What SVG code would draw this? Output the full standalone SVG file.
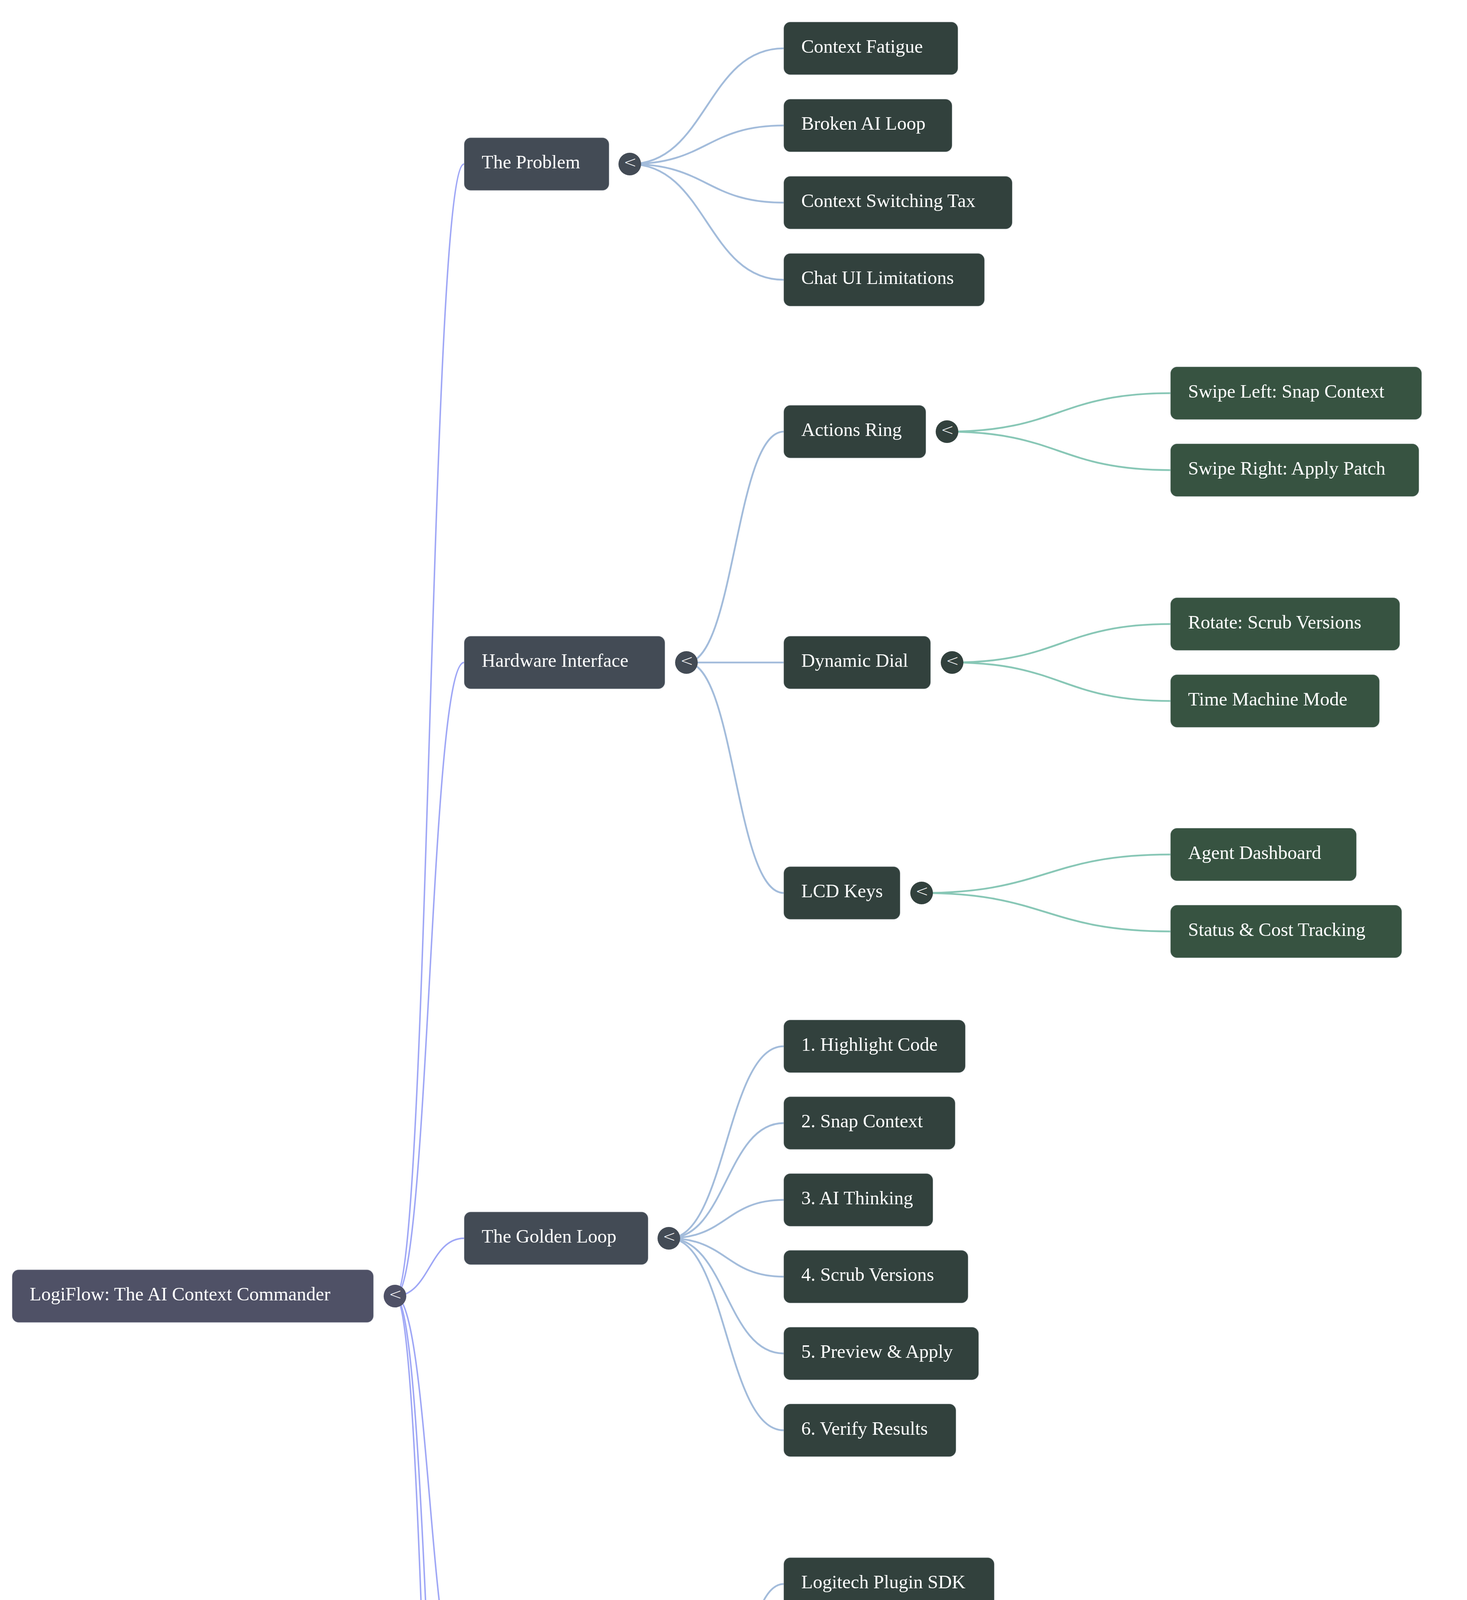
<svg xmlns="http://www.w3.org/2000/svg" width="3755" height="6537" viewBox="0 0 3755 6537">
<style>
.box{stroke:#c8ccd2;stroke-opacity:0.45;stroke-width:1.5}
.r0{fill:#4f5166}
.r1{fill:#434b55}
.r2{fill:#32413d}
.r3{fill:#375341}
.t{font-family:"Liberation Serif","Times New Roman",serif;font-size:48.5px;fill:#ffffff}
.ex{font-family:"DejaVu Sans","Liberation Sans",sans-serif;font-weight:200;font-size:40px;fill:#ffffff;text-anchor:middle}
.c0{fill:none;stroke:#9fa7f6;stroke-width:3.8;stroke-linecap:round}
.c1{fill:none;stroke:#a3bcdb;stroke-width:4.6;stroke-linecap:round}
.c2{fill:none;stroke:#88c7b6;stroke-width:4.6;stroke-linecap:round}
</style>
<rect width="3755" height="6537" fill="#ffffff"/>
<g id="connectors">
<path class="c0" d="M1011 3318 C1099.5 3318 1099.5 420 1188 420"/>
<path class="c0" d="M1011 3318 C1099.5 3318 1099.5 1696 1188 1696"/>
<path class="c0" d="M1011 3318 C1099.5 3318 1099.5 3170 1188 3170"/>
<path class="c0" d="M1011 3318 C1099.5 3318 1099.5 4350 1188 4350"/>
<path class="c0" d="M1011 3318 C1099.5 3318 1099.5 5337 1188 5337"/>
<path class="c0" d="M1011 3318 C1099.5 3318 1099.5 6219 1188 6219"/>
<path class="c1" d="M1612 420 C1809 420 1809 123.75 2006 123.75"/>
<path class="c1" d="M1612 420 C1809 420 1809 321.25 2006 321.25"/>
<path class="c1" d="M1612 420 C1809 420 1809 518.75 2006 518.75"/>
<path class="c1" d="M1612 420 C1809 420 1809 716.25 2006 716.25"/>
<path class="c1" d="M1757 1696 C1881.5 1696 1881.5 1105 2006 1105"/>
<path class="c1" d="M1757 1696 L2006 1696"/>
<path class="c1" d="M1757 1696 C1881.5 1696 1881.5 2286 2006 2286"/>
<path class="c1" d="M1712 3170 C1859 3170 1859 2678.5 2006 2678.5"/>
<path class="c1" d="M1712 3170 C1859 3170 1859 2875.1 2006 2875.1"/>
<path class="c1" d="M1712 3170 C1859 3170 1859 3071.7 2006 3071.7"/>
<path class="c1" d="M1712 3170 C1859 3170 1859 3268.3 2006 3268.3"/>
<path class="c1" d="M1712 3170 C1859 3170 1859 3464.9 2006 3464.9"/>
<path class="c1" d="M1712 3170 C1859 3170 1859 3661.5 2006 3661.5"/>
<path class="c1" d="M1827 4350 C1916.5 4350 1916.5 4055 2006 4055"/>
<path class="c1" d="M1827 4350 C1916.5 4350 1916.5 4251.7 2006 4251.7"/>
<path class="c1" d="M1827 4350 C1916.5 4350 1916.5 4448.3 2006 4448.3"/>
<path class="c1" d="M1827 4350 C1916.5 4350 1916.5 4645 2006 4645"/>
<path class="c1" d="M1644 5337 C1825 5337 1825 5041 2006 5041"/>
<path class="c1" d="M1644 5337 C1825 5337 1825 5238 2006 5238"/>
<path class="c1" d="M1644 5337 C1825 5337 1825 5435 2006 5435"/>
<path class="c1" d="M1644 5337 C1825 5337 1825 5632 2006 5632"/>
<path class="c1" d="M1727 6219 C1866.5 6219 1866.5 6022 2006 6022"/>
<path class="c1" d="M1727 6219 L2006 6219"/>
<path class="c1" d="M1727 6219 C1866.5 6219 1866.5 6416 2006 6416"/>
<path class="c2" d="M2424 1105 C2710 1105 2710 1006.5 2996 1006.5"/>
<path class="c2" d="M2424 1105 C2710 1105 2710 1203.5 2996 1203.5"/>
<path class="c2" d="M2437 1696 C2716.5 1696 2716.5 1597.5 2996 1597.5"/>
<path class="c2" d="M2437 1696 C2716.5 1696 2716.5 1794.5 2996 1794.5"/>
<path class="c2" d="M2359 2286 C2677.5 2286 2677.5 2187.5 2996 2187.5"/>
<path class="c2" d="M2359 2286 C2677.5 2286 2677.5 2384.5 2996 2384.5"/>
<path class="c2" d="M2422 6022 C2709 6022 2709 5825 2996 5825"/>
<path class="c2" d="M2422 6022 L2996 6022"/>
<path class="c2" d="M2422 6022 C2709 6022 2709 6219 2996 6219"/>
</g>
<g id="nodes">
<g id="root"><rect class="box r0" x="31" y="3250.5" width="925" height="135" rx="17"/><text class="t" x="76" y="3329">LogiFlow: The AI Context Commander</text><circle class="r0" cx="1011" cy="3318" r="29"/><text class="ex" x="1012" y="3327">&lt;</text></g>

<g id="problem"><rect class="box r1" x="1188" y="352.5" width="371" height="135" rx="17"/><text class="t" x="1233" y="431">The Problem</text><circle class="r1" cx="1612" cy="420" r="29"/><text class="ex" x="1613" y="429">&lt;</text></g>
<g id="hardware"><rect class="box r1" x="1188" y="1628.5" width="514" height="135" rx="17"/><text class="t" x="1233" y="1707">Hardware Interface</text><circle class="r1" cx="1757" cy="1696" r="29"/><text class="ex" x="1758" y="1705">&lt;</text></g>
<g id="golden"><rect class="box r1" x="1188" y="3102.5" width="471" height="135" rx="17"/><text class="t" x="1233" y="3181">The Golden Loop</text><circle class="r1" cx="1712" cy="3170" r="29"/><text class="ex" x="1713" y="3179">&lt;</text></g>
<g id="tech"><rect class="box r1" x="1188" y="4282.5" width="586" height="135" rx="17"/><text class="t" x="1233" y="4361">Technical Architecture</text><circle class="r1" cx="1827" cy="4350" r="29"/><text class="ex" x="1828" y="4359">&lt;</text></g>
<g id="safety"><rect class="box r1" x="1188" y="5269.5" width="401" height="135" rx="17"/><text class="t" x="1233" y="5348">Safety &amp; Trust</text><circle class="r1" cx="1644" cy="5337" r="29"/><text class="ex" x="1645" y="5346">&lt;</text></g>
<g id="business"><rect class="box r1" x="1188" y="6151.5" width="484" height="135" rx="17"/><text class="t" x="1233" y="6230">Business Strategy</text><circle class="r1" cx="1727" cy="6219" r="29"/><text class="ex" x="1728" y="6228">&lt;</text></g>

<g id="context-fatigue"><rect class="box r2" x="2006" y="56.25" width="446" height="135" rx="17"/><text class="t" x="2051" y="134.75">Context Fatigue</text></g>
<g id="broken-ai-loop"><rect class="box r2" x="2006" y="253.75" width="431" height="135" rx="17"/><text class="t" x="2051" y="332.25">Broken AI Loop</text></g>
<g id="context-switching-tax"><rect class="box r2" x="2006" y="451.25" width="585" height="135" rx="17"/><text class="t" x="2051" y="529.75">Context Switching Tax</text></g>
<g id="chat-ui"><rect class="box r2" x="2006" y="648.75" width="514" height="135" rx="17"/><text class="t" x="2051" y="727.25">Chat UI Limitations</text></g>

<g id="actions-ring"><rect class="box r2" x="2006" y="1037.5" width="364" height="135" rx="17"/><text class="t" x="2051" y="1116">Actions Ring</text><circle class="r2" cx="2424" cy="1105" r="29"/><text class="ex" x="2425" y="1114">&lt;</text></g>
<g id="dynamic-dial"><rect class="box r2" x="2006" y="1628.5" width="376" height="135" rx="17"/><text class="t" x="2051" y="1707">Dynamic Dial</text><circle class="r2" cx="2437" cy="1696" r="29"/><text class="ex" x="2438" y="1705">&lt;</text></g>
<g id="lcd-keys"><rect class="box r2" x="2006" y="2218.5" width="298" height="135" rx="17"/><text class="t" x="2051" y="2297">LCD Keys</text><circle class="r2" cx="2359" cy="2286" r="29"/><text class="ex" x="2360" y="2295">&lt;</text></g>

<g id="swipe-left"><rect class="box r3" x="2996" y="939" width="643" height="135" rx="17"/><text class="t" x="3041" y="1017.5">Swipe Left: Snap Context</text></g>
<g id="swipe-right"><rect class="box r3" x="2996" y="1136" width="636" height="135" rx="17"/><text class="t" x="3041" y="1214.5">Swipe Right: Apply Patch</text></g>
<g id="rotate"><rect class="box r3" x="2996" y="1530" width="587" height="135" rx="17"/><text class="t" x="3041" y="1608.5">Rotate: Scrub Versions</text></g>
<g id="time-machine"><rect class="box r3" x="2996" y="1727" width="535" height="135" rx="17"/><text class="t" x="3041" y="1805.5">Time Machine Mode</text></g>
<g id="agent-dashboard"><rect class="box r3" x="2996" y="2120" width="476" height="135" rx="17"/><text class="t" x="3041" y="2198.5">Agent Dashboard</text></g>
<g id="status-cost"><rect class="box r3" x="2996" y="2317" width="592" height="135" rx="17"/><text class="t" x="3041" y="2395.5">Status &amp; Cost Tracking</text></g>

<g id="step1"><rect class="box r2" x="2006" y="2611" width="465" height="135" rx="17"/><text class="t" x="2051" y="2689.5">1. Highlight Code</text></g>
<g id="step2"><rect class="box r2" x="2006" y="2807.6" width="439" height="135" rx="17"/><text class="t" x="2051" y="2886.1">2. Snap Context</text></g>
<g id="step3"><rect class="box r2" x="2006" y="3004.2" width="382" height="135" rx="17"/><text class="t" x="2051" y="3082.7">3. AI Thinking</text></g>
<g id="step4"><rect class="box r2" x="2006" y="3200.8" width="472" height="135" rx="17"/><text class="t" x="2051" y="3279.3">4. Scrub Versions</text></g>
<g id="step5"><rect class="box r2" x="2006" y="3397.4" width="499" height="135" rx="17"/><text class="t" x="2051" y="3475.9">5. Preview &amp; Apply</text></g>
<g id="step6"><rect class="box r2" x="2006" y="3594" width="441" height="135" rx="17"/><text class="t" x="2051" y="3672.5">6. Verify Results</text></g>

<g id="plugin-sdk"><rect class="box r2" x="2006" y="3987.5" width="539" height="135" rx="17"/><text class="t" x="2051" y="4066">Logitech Plugin SDK</text></g>
<g id="daemon"><rect class="box r2" x="2006" y="4184.2" width="484" height="135" rx="17"/><text class="t" x="2051" y="4262.7">LogiFlow Daemon</text></g>
<g id="ide-ext"><rect class="box r2" x="2006" y="4380.8" width="415" height="135" rx="17"/><text class="t" x="2051" y="4459.3">IDE Extensions</text></g>
<g id="overlay"><rect class="box r2" x="2006" y="4577.5" width="314" height="135" rx="17"/><text class="t" x="2051" y="4656">Overlay UI</text></g>

<g id="diff-preview"><rect class="box r2" x="2006" y="4973.5" width="526" height="135" rx="17"/><text class="t" x="2051" y="5052">Diff Preview Default</text></g>
<g id="undo"><rect class="box r2" x="2006" y="5170.5" width="443" height="135" rx="17"/><text class="t" x="2051" y="5249">One-Click Undo</text></g>
<g id="guardrails"><rect class="box r2" x="2006" y="5367.5" width="572" height="135" rx="17"/><text class="t" x="2051" y="5446">Automated Guardrails</text></g>
<g id="audit-logs"><rect class="box r2" x="2006" y="5564.5" width="510" height="135" rx="17"/><text class="t" x="2051" y="5643">Session Audit Logs</text></g>

<g id="pricing"><rect class="box r2" x="2006" y="5954.5" width="361" height="135" rx="17"/><text class="t" x="2051" y="6033">Pricing Tiers</text><circle class="r2" cx="2422" cy="6022" r="29"/><text class="ex" x="2423" y="6031">&lt;</text></g>
<g id="marketplace"><rect class="box r2" x="2006" y="6151.5" width="839" height="135" rx="17"/><text class="t" x="2051" y="6230">Logitech Marketplace Distribution</text></g>
<g id="user-base"><rect class="box r2" x="2006" y="6348.5" width="537" height="135" rx="17"/><text class="t" x="2051" y="6427">40M+ MX User Base</text></g>

<g id="free"><rect class="box r3" x="2996" y="5757.5" width="522" height="135" rx="17"/><text class="t" x="3041" y="5836">Free: Core Features</text></g>
<g id="pro"><rect class="box r3" x="2996" y="5954.5" width="618" height="135" rx="17"/><text class="t" x="3041" y="6033">Pro: Advanced Contexts</text></g>
<g id="teams"><rect class="box r3" x="2996" y="6151.5" width="595" height="135" rx="17"/><text class="t" x="3041" y="6230">Teams: Admin Controls</text></g>
</g>
</svg>
